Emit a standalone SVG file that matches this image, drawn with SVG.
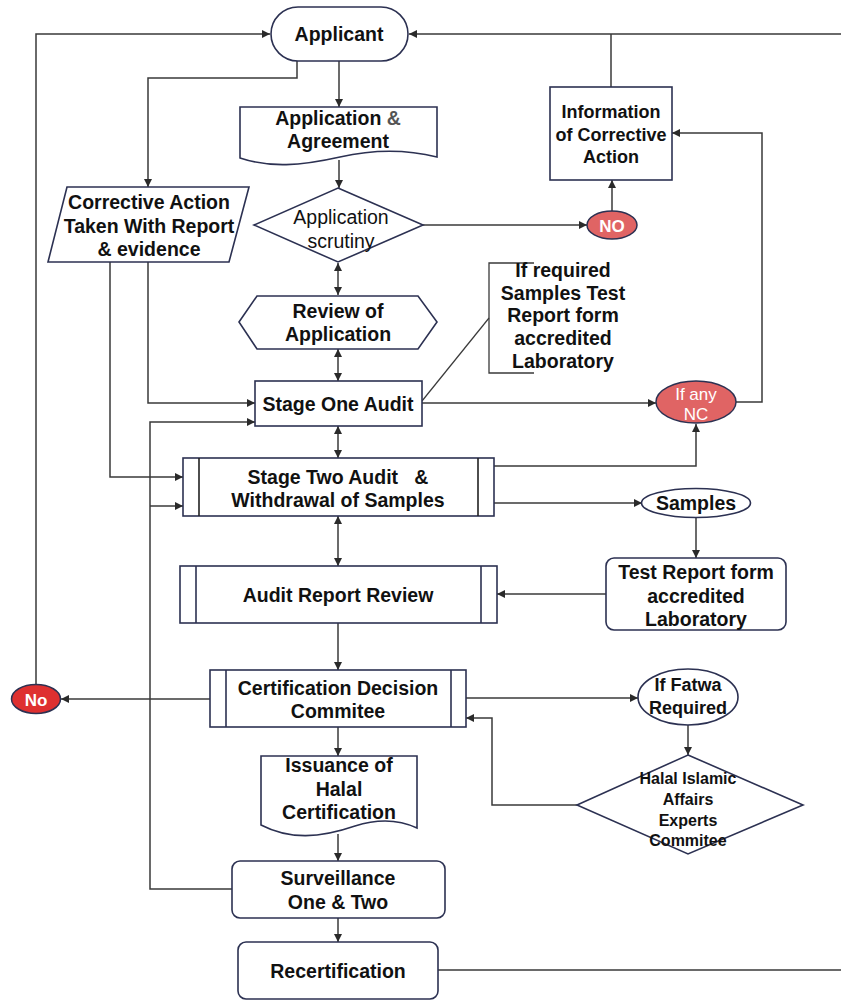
<svg xmlns="http://www.w3.org/2000/svg" width="841" height="1000" viewBox="0 0 841 1000">
<style>
.s{fill:#fff;stroke:#2c3152;stroke-width:1.6}
.c{fill:none;stroke:#3a3a3a;stroke-width:1.5}
.t{font-family:"Liberation Sans",Arial,sans-serif;font-size:19.5px;font-weight:bold;fill:#111;text-anchor:middle}
.n{font-weight:normal}
.w{fill:#fff}
.sm{font-size:16px}
.red1{fill:#e06464;stroke:#2c3152;stroke-width:1.5}
.red2{fill:#de3030;stroke:#2c3152;stroke-width:1.5}
</style>
<defs>
<marker id="a" viewBox="0 0 10 10" refX="10" refY="5" markerWidth="8" markerHeight="8" markerUnits="userSpaceOnUse" orient="auto-start-reverse">
<path d="M0,0 L10,5 L0,10 z" fill="#2a2a2a"/>
</marker>
</defs>
<rect width="841" height="1000" fill="#fff"/>
<g id="connectors">
<path class="c" d="M36,684 V34 H270" marker-end="url(#a)"/>
<path class="c" d="M438,970 H846 V34 H409" marker-end="url(#a)"/>
<path class="c" d="M611,87 V34"/>
<path class="c" d="M297,61 V78 H148 V187" marker-end="url(#a)"/>
<path class="c" d="M339,61 V107" marker-end="url(#a)"/>
<path class="c" d="M339,160 V188" marker-end="url(#a)"/>
<path class="c" d="M423,225 H587" marker-end="url(#a)"/>
<path class="c" d="M612,211 V180" marker-end="url(#a)"/>
<path class="c" d="M338,263 V295" marker-start="url(#a)" marker-end="url(#a)"/>
<path class="c" d="M338,349 V381" marker-start="url(#a)" marker-end="url(#a)"/>
<path class="c" d="M338,426 V458" marker-start="url(#a)" marker-end="url(#a)"/>
<path class="c" d="M338,516 V566" marker-start="url(#a)" marker-end="url(#a)"/>
<path class="c" d="M148,262 V403 H255" marker-end="url(#a)"/>
<path class="c" d="M110,262 V477 H183" marker-end="url(#a)"/>
<path class="c" d="M232,889 H150 V422 H255" marker-end="url(#a)"/>
<path class="c" d="M150,506 H183" marker-end="url(#a)"/>
<path class="c" d="M422,403 H656" marker-end="url(#a)"/>
<path class="c" d="M736,402 H762 V133 H672" marker-end="url(#a)"/>
<path class="c" d="M422,401 L489,318" style="stroke-width:1.2"/>
<path class="c" d="M494,466 H696 V424" marker-end="url(#a)"/>
<path class="c" d="M494,503 H642" marker-end="url(#a)"/>
<path class="c" d="M696,518 V558" marker-end="url(#a)"/>
<path class="c" d="M606,594 H497" marker-end="url(#a)"/>
<path class="c" d="M338,623 V670" marker-end="url(#a)"/>
<path class="c" d="M210,699 H61" marker-end="url(#a)"/>
<path class="c" d="M466,698 H638" marker-end="url(#a)"/>
<path class="c" d="M688,725 V755" marker-end="url(#a)"/>
<path class="c" d="M577,805 H492 V718 H466" marker-end="url(#a)"/>
<path class="c" d="M338,727 V756" marker-end="url(#a)"/>
<path class="c" d="M338,834 V861" marker-end="url(#a)"/>
<path class="c" d="M338,918 V942" marker-end="url(#a)"/>
</g>
<g id="applicant">
<rect class="s" x="271" y="7" width="137" height="54" rx="27"/>
<text class="t" x="339" y="41">Applicant</text>
</g>
<g id="application-agreement">
<path class="s" d="M240,107 H437 V157 C405,149 375,149 340,157 C300,166 270,168 240,158 Z"/>
<text class="t" x="338" y="125">Application <tspan fill="#555">&amp;</tspan></text>
<text class="t" x="338" y="148">Agreement</text>
</g>
<g id="application-scrutiny">
<polygon class="s" points="338,188 423,225 338,262 254,225"/>
<text class="t n" x="341" y="224">Application</text>
<text class="t n" x="341" y="248">scrutiny</text>
</g>
<g id="no-top">
<ellipse class="red1" cx="612" cy="225" rx="25" ry="14"/>
<text class="t w" x="612" y="232" style="font-size:17px">NO</text>
</g>
<g id="information-corrective-action">
<rect class="s" x="550" y="87" width="122" height="93"/>
<text class="t" x="611" y="118" style="font-size:18px">Information</text>
<text class="t" x="611" y="141" style="font-size:18px">of Corrective</text>
<text class="t" x="611" y="163" style="font-size:18px">Action</text>
</g>
<g id="corrective-action">
<polygon class="s" points="67,187 249,187 229,262 48,262"/>
<text class="t" x="149" y="209">Corrective Action</text>
<text class="t" x="149" y="233">Taken With Report</text>
<text class="t" x="149" y="256">&amp; evidence</text>
</g>
<g id="review-application">
<polygon class="s" points="239,322 257,296 418,296 437,322 418,349 257,349"/>
<text class="t" x="338" y="318">Review of</text>
<text class="t" x="338" y="341">Application</text>
</g>
<g id="stage-one">
<rect class="s" x="255" y="381" width="167" height="45"/>
<text class="t" x="338" y="411">Stage One Audit</text>
</g>
<g id="samples-note">
<path class="c" d="M534,263 H489 V373 H534" style="stroke-width:1.3"/>
<text class="t" x="563" y="277">If required</text>
<text class="t" x="563" y="300">Samples Test</text>
<text class="t" x="563" y="322">Report form</text>
<text class="t" x="563" y="345">accredited</text>
<text class="t" x="563" y="368">Laboratory</text>
</g>
<g id="if-any-nc">
<ellipse class="red1" cx="696" cy="402" rx="40" ry="21"/>
<text class="t n w" x="696" y="400" style="font-size:17px">If any</text>
<text class="t n w" x="696" y="420" style="font-size:17px">NC</text>
</g>
<g id="stage-two">
<rect class="s" x="183" y="458" width="311" height="58"/>
<path class="s" d="M199,458 V516 M478,458 V516" style="stroke:#222"/>
<text class="t" x="338" y="484" xml:space="preserve">Stage Two Audit   &amp;</text>
<text class="t" x="338" y="507">Withdrawal of Samples</text>
</g>
<g id="samples">
<ellipse class="s" cx="696" cy="503" rx="54.5" ry="14.5"/>
<text class="t" x="696" y="510">Samples</text>
</g>
<g id="test-report">
<rect class="s" x="606" y="558" width="180" height="72" rx="8"/>
<text class="t" x="696" y="579">Test Report form</text>
<text class="t" x="696" y="603">accredited</text>
<text class="t" x="696" y="626">Laboratory</text>
</g>
<g id="audit-report-review">
<rect class="s" x="180" y="566" width="317" height="57"/>
<path class="s" d="M196,566 V623 M481,566 V623"/>
<text class="t" x="338" y="602">Audit Report Review</text>
</g>
<g id="certification-decision">
<rect class="s" x="210" y="670" width="256" height="57"/>
<path class="s" d="M226,670 V727 M451,670 V727"/>
<text class="t" x="338" y="695">Certification Decision</text>
<text class="t" x="338" y="718">Commitee</text>
</g>
<g id="no-left">
<ellipse class="red2" cx="36" cy="699" rx="24.5" ry="14.5"/>
<text class="t w" x="36" y="706" style="font-size:17px">No</text>
</g>
<g id="if-fatwa">
<ellipse class="s" cx="688" cy="697" rx="50" ry="28"/>
<text class="t" x="688" y="691" style="font-size:18px">If Fatwa</text>
<text class="t" x="688" y="714" style="font-size:18px">Required</text>
</g>
<g id="halal-affairs">
<polygon class="s" points="688,755 803,805 688,854 577,805"/>
<text class="t sm" x="688" y="784">Halal Islamic</text>
<text class="t sm" x="688" y="805">Affairs</text>
<text class="t sm" x="688" y="826">Experts</text>
<text class="t sm" x="688" y="846">Commitee</text>
</g>
<g id="issuance">
<path class="s" d="M261,756 H417 V828 C400,820 380,818 355,826 C320,838 290,840 261,825 Z"/>
<text class="t" x="339" y="772">Issuance of</text>
<text class="t" x="339" y="796">Halal</text>
<text class="t" x="339" y="819">Certification</text>
</g>
<g id="surveillance">
<rect class="s" x="232" y="861" width="213" height="57" rx="8"/>
<text class="t" x="338" y="885">Surveillance</text>
<text class="t" x="338" y="909">One &amp; Two</text>
</g>
<g id="recertification">
<rect class="s" x="238" y="942" width="200" height="57" rx="8"/>
<text class="t" x="338" y="978">Recertification</text>
</g>
</svg>
